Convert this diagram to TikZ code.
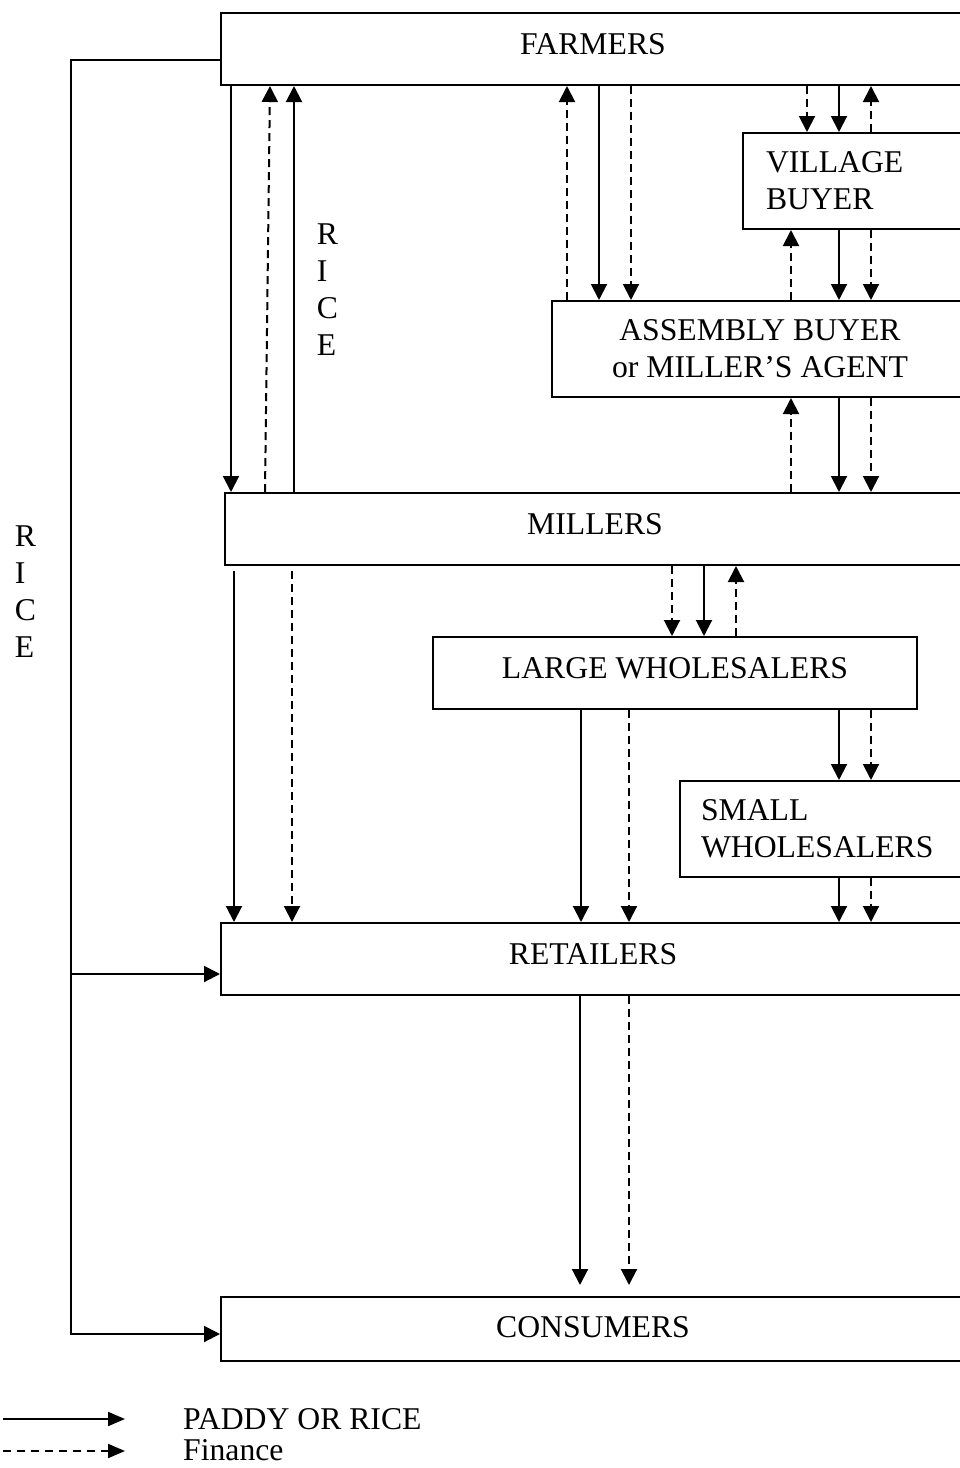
\documentclass[tikz,border=0pt]{standalone}
\usepackage{fontspec}
\setmainfont{Liberation Serif}
\usetikzlibrary{arrows.meta}
\tikzset{
  lbl/.style={font=\fontsize{31.7}{37}\selectfont, inner sep=0pt},
  onebox/.style={lbl, draw, line width=2pt, anchor=north west, inner xsep=0pt, inner ysep=0pt, text height=41pt},
  twobox/.style={lbl, draw, line width=2pt, anchor=north west, inner ysep=0pt, minimum height=96pt},
  flow/.style={line width=2pt, -{Triangle[width=16pt,length=16pt]}},
  fin/.style={flow, dash pattern=on 8pt off 5pt},
  legflow/.style={line width=2pt, -{Triangle[width=14pt,length=17pt]}},
  legfin/.style={legflow, dash pattern=on 8pt off 6pt},
}
\begin{document}
\begin{tikzpicture}[x=1pt,y=-1pt]
\useasboundingbox (0,0) rectangle (960,1468);
\clip (0,0) rectangle (960,1468);

% boxes
\node[onebox, minimum width=744pt, text depth=31pt] (farmers) at (220,12) {FARMERS};
\node[twobox, minimum width=228pt, text width=182pt, inner xsep=23pt, align=left] (village) at (742,132) {VILLAGE\\BUYER};
\node[twobox, minimum width=416pt, align=center] (assembly) at (551,300) {ASSEMBLY BUYER\\or MILLER’S AGENT};
\node[onebox, minimum width=740pt, text depth=31pt] (millers) at (224,492) {MILLERS};
\node[onebox, minimum width=484pt, text depth=31pt] (large) at (432,636) {LARGE WHOLESALERS};
\node[twobox, minimum width=291pt, text width=249pt, inner xsep=21pt, align=left] (small) at (679,780) {SMALL\\WHOLESALERS};
\node[onebox, minimum width=744pt, text depth=31pt] (retailers) at (220,922) {RETAILERS};
\node[onebox, minimum width=744pt, text height=40pt, text depth=24pt] (consumers) at (220,1296) {CONSUMERS};

% vertical labels
\node[lbl, align=left] (riceL) at (25.5,592) {R\\I\\C\\E};
\node[lbl, align=left] (riceM) at (327.5,290) {R\\I\\C\\E};

% farmers <-> millers
\draw[flow] (farmers.south -| 231,0) -- (millers.north -| 231,0);
\draw[fin] (millers.north -| 265,0) -- (farmers.south -| 270,0);
\draw[flow] (millers.north -| 294,0) -- (farmers.south -| 294,0);
% farmers <-> assembly
\draw[fin] (assembly.north -| 567,0) -- (farmers.south -| 567,0);
\draw[flow] (farmers.south -| 599,0) -- (assembly.north -| 599,0);
\draw[fin] (farmers.south -| 631,0) -- (assembly.north -| 631,0);
% farmers <-> village
\draw[fin] (farmers.south -| 807,0) -- (village.north -| 807,0);
\draw[flow] (farmers.south -| 839,0) -- (village.north -| 839,0);
\draw[fin] (village.north -| 871,0) -- (farmers.south -| 871,0);
% village <-> assembly
\draw[fin] (assembly.north -| 791,0) -- (village.south -| 791,0);
\draw[flow] (village.south -| 839,0) -- (assembly.north -| 839,0);
\draw[fin] (village.south -| 871,0) -- (assembly.north -| 871,0);
% assembly <-> millers
\draw[fin] (millers.north -| 791,0) -- (assembly.south -| 791,0);
\draw[flow] (assembly.south -| 839,0) -- (millers.north -| 839,0);
\draw[fin] (assembly.south -| 871,0) -- (millers.north -| 871,0);
% millers <-> large
\draw[fin] (millers.south -| 672,0) -- (large.north -| 672,0);
\draw[flow] (millers.south -| 704,0) -- (large.north -| 704,0);
\draw[fin] (large.north -| 736,0) -- (millers.south -| 736,0);
% large -> small
\draw[flow] (large.south -| 839,0) -- (small.north -| 839,0);
\draw[fin] (large.south -| 871,0) -- (small.north -| 871,0);
% small -> retailers
\draw[flow] (small.south -| 839,0) -- (retailers.north -| 839,0);
\draw[fin] (small.south -| 871,0) -- (retailers.north -| 871,0);
% large -> retailers
\draw[flow] (large.south -| 581,0) -- (retailers.north -| 581,0);
\draw[fin] (large.south -| 629,0) -- (retailers.north -| 629,0);
% millers -> retailers
\draw[flow, shorten <=5pt] (millers.south -| 234,0) -- (retailers.north -| 234,0);
\draw[fin, shorten <=5pt] (millers.south -| 292,0) -- (retailers.north -| 292,0);
% retailers -> consumers
\draw[flow, shorten >=11pt] (retailers.south -| 580,0) -- (consumers.north -| 580,0);
\draw[fin, shorten >=11pt] (retailers.south -| 629,0) -- (consumers.north -| 629,0);

% left rice bus
\coordinate (busTop) at (71,60);
\coordinate (busMid) at (71,974);
\coordinate (busLow) at (71,1334);
\draw[flow] (farmers.west |- busTop) -- (busTop) -- (busLow) -- (consumers.west |- busLow);
\draw[flow] (busMid) -- (retailers.west |- busMid);

% legend
\coordinate (lgA) at (3,1419);
\coordinate (lgAe) at (125,1419);
\coordinate (lgB) at (3,1451);
\coordinate (lgBe) at (125,1451);
\draw[legflow] (lgA) -- (lgAe);
\draw[legfin] (lgB) -- (lgBe);
\node[lbl, anchor=base west] (lgflow) at (183,1429) {PADDY OR RICE};
\node[lbl, anchor=base west] (lgfin) at (183,1460) {Finance};
\end{tikzpicture}
\end{document}
